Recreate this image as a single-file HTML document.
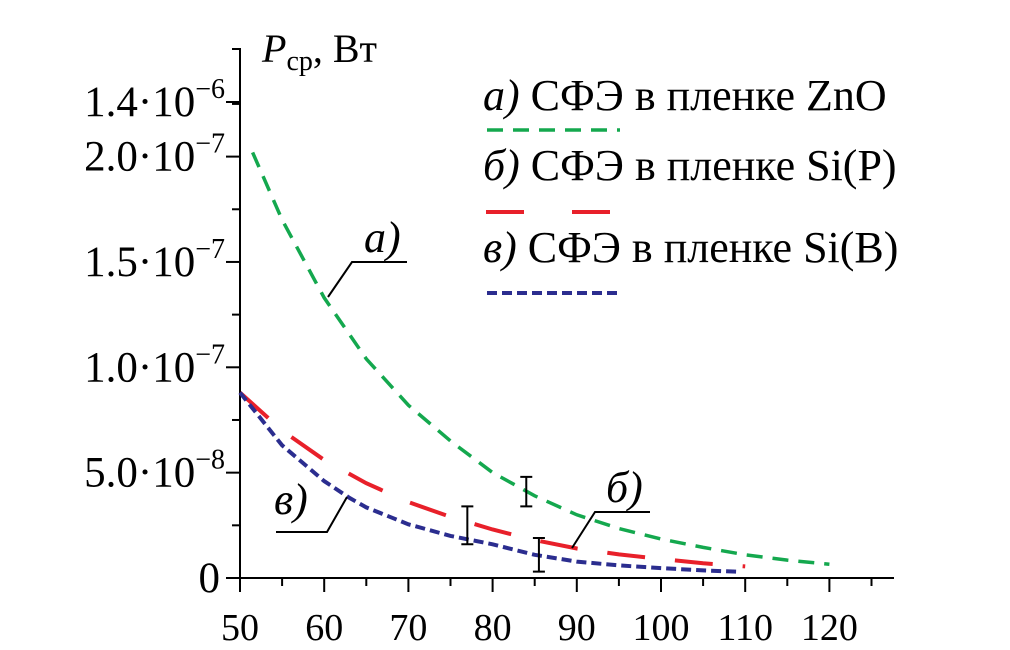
<!DOCTYPE html>
<html><head><meta charset="utf-8"><style>
html,body{margin:0;padding:0;background:#fff;}
svg{display:block;font-family:"Liberation Serif",serif;}
</style></head><body>
<svg width="1010" height="650" viewBox="0 0 1010 650" id="chart">
<g id="axes"></g>
<g id="series"></g>
<g id="annot">
  <text x="262" y="62" font-size="40"><tspan font-style="italic">P</tspan><tspan font-size="28" dy="8">ср</tspan><tspan dy="-8">, Вт</tspan></text>
  <text x="364" y="252" font-size="44" font-style="italic">a)</text>
  <polyline points="328,297 352,262 407,262" fill="none" stroke="#000" stroke-width="2"/>
  <text x="274" y="514" font-size="44" font-style="italic">в)</text>
  <polyline points="276,532 327,532 347,497" fill="none" stroke="#000" stroke-width="2"/>
  <text x="606" y="502" font-size="44" font-style="italic">б)</text>
  <polyline points="572,548 595,512 650,512" fill="none" stroke="#000" stroke-width="2"/>
</g>
<g id="legend">
  <text x="483" y="110" font-size="44"><tspan font-style="italic">a)</tspan> СФЭ в пленке ZnO</text>
  <line x1="487" y1="130" x2="620" y2="130" stroke="#14a84e" stroke-width="3.5" stroke-dasharray="16 10"/>
  <text x="483" y="180" font-size="44"><tspan font-style="italic">б)</tspan> СФЭ в пленке Si(P)</text>
  <line x1="486" y1="212" x2="612" y2="212" stroke="#e8202a" stroke-width="4" stroke-dasharray="38 48"/>
  <text x="483" y="262" font-size="44"><tspan font-style="italic">в)</tspan> СФЭ в пленке Si(B)</text>
  <line x1="487" y1="293" x2="620" y2="293" stroke="#2b2d8f" stroke-width="4" stroke-dasharray="10 5"/>
</g>
</svg>
<script>
// data (values in units of 1e-8 W)
const xTicks = [50,60,70,80,90,100,110,120];
const yTickVals = [0,5,10,15,20];
const yTickLabels = ["0","5.0·10","1.0·10","1.5·10","2.0·10"];
const yTickExp = ["","−8","−7","−7","−7"];
const xA = [51.5,55,60,65,70,75,80,85,90,95,100,105,110,115,120];
const yA = [20.2,17.0,13.3,10.4,8.2,6.5,5.0,3.9,3.0,2.35,1.85,1.45,1.1,0.85,0.65];
const xB = [50,55,60,65,70,75,80,85,90,95,100,105,110];
const yB = [8.8,7.0,5.6,4.5,3.6,2.9,2.3,1.8,1.4,1.12,0.9,0.7,0.55];
const xV = [50,55,60,63,65,70,75,80,85,90,95,100,105,109];
const yV = [8.8,6.3,4.6,3.8,3.35,2.55,2.0,1.6,1.1,0.78,0.6,0.47,0.36,0.3];
const errX = [77,84,85.5];
const errLo = [1.6,3.4,0.3];
const errHi = [3.4,4.8,1.9];

const X = v => 240 + (v-50)*8.42;
const Y = v => 578 - v*21.07;
const NS="http://www.w3.org/2000/svg";
function mk(tag, attrs, parent){const e=document.createElementNS(NS,tag);for(const k in attrs)e.setAttribute(k,attrs[k]);parent.appendChild(e);return e;}
const ax=document.getElementById('axes');
let e;
e=mk('line',{x1:240,y1:48,x2:240,y2:578,stroke:'#000','stroke-width':2},ax);


e=mk('line',{x1:240,y1:578,x2:894,y2:578,stroke:'#000','stroke-width':2},ax);


for(let v=50; v<=125; v+=5){
  const big = v%10===0;
  e=mk('line',{x1:X(v),y1:578,x2:X(v),y2:big?592:586,stroke:'#000','stroke-width':2},ax);
  
  
}
xTicks.forEach(v=>{
  e=mk('text',{x:X(v),y:640,'font-size':38,'text-anchor':'middle'},ax);
  e.textContent=v;
  
  
});
for(let v=0; v<=22.5; v+=2.5){
  const big = v%5===0;
  e=mk('line',{x1:big?226:232,y1:Y(v),x2:240,y2:Y(v),stroke:'#000','stroke-width':2},ax);
  
  
}
[102,49].forEach((yy,i)=>{
  e=mk('line',{x1:i?232:226,y1:yy,x2:240,y2:yy,stroke:'#000','stroke-width':2},ax);
  
  
});
function ylabel(txt,exp,yy){
  const t=mk('text',{x:exp?225:220,y:yy+14,'font-size':43,'text-anchor':'end'},ax);
  
  
  const a=document.createElementNS(NS,'tspan');a.textContent=txt;t.appendChild(a);
  if(exp){const b=document.createElementNS(NS,'tspan');b.setAttribute('font-size','28');b.setAttribute('dy','-18');b.textContent=exp;t.appendChild(b);}
}
yTickVals.forEach((v,i)=>ylabel(yTickLabels[i],yTickExp[i],Y(v)));
ylabel("1.4·10","−6",102);

const se=document.getElementById('series');
function path(xs,ys){return xs.map((x,i)=>(i?'L':'M')+X(x).toFixed(1)+','+Y(ys[i]).toFixed(1)).join(' ');}
e=mk('path',{d:path(xA,yA),fill:'none',stroke:'#14a84e','stroke-width':3.5,'stroke-dasharray':'16 10'},se);


e=mk('path',{d:path(xB,yB),fill:'none',stroke:'#e8202a','stroke-width':4,'stroke-dasharray':'38 30'},se);


e=mk('path',{d:path(xV,yV),fill:'none',stroke:'#2b2d8f','stroke-width':4,'stroke-dasharray':'10 5'},se);


errX.forEach((x,i)=>{
  const px=X(x), a=Y(errLo[i]), b=Y(errHi[i]);
  e=mk('path',{d:`M${px},${a} L${px},${b} M${px-6},${a} L${px+6},${a} M${px-6},${b} L${px+6},${b}`,stroke:'#000','stroke-width':2,fill:'none'},se);
  
  
});
</script>
</body></html>
